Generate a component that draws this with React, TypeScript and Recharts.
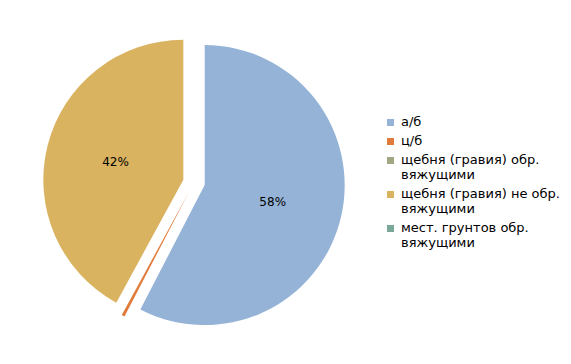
import React from "react";
import { PieChart, Pie, Cell, Legend, Sector } from "recharts";

const categories = [
  "а/б",
  "ц/б",
  "щебня (гравия) обр. вяжущими",
  "щебня (гравия) не обр. вяжущими",
  "мест. грунтов обр. вяжущими",
];
const shares = [57.6, 0.35, 0, 42.05, 0];
const colors = ["#95B3D7", "#E07B3C", "#A0A883", "#D9B35F", "#79A898"];

const data = categories.map((name, i) => ({ name, value: shares[i] }));

const RAD = Math.PI / 180;
const EXPLODE = 11;
const FONT = "'DejaVu Sans', sans-serif";

const ExplodedSector = (props: any) => {
  const { cx, cy, midAngle } = props;
  const dx = EXPLODE * Math.cos(-midAngle * RAD);
  const dy = EXPLODE * Math.sin(-midAngle * RAD);
  return <Sector {...props} cx={cx + dx} cy={cy + dy} />;
};

const renderLabel = (props: any) => {
  const { cx, cy, midAngle, outerRadius, percent } = props;
  if (percent < 0.01) return null;
  const r = EXPLODE + outerRadius * 0.5;
  const x = cx + r * Math.cos(-midAngle * RAD);
  const y = cy + r * Math.sin(-midAngle * RAD);
  return (
    <text
      x={x}
      y={y}
      textAnchor="middle"
      dominantBaseline="central"
      fill="#000"
      fontSize={12}
      fontFamily={FONT}
    >
      {`${Math.round(percent * 100)}%`}
    </text>
  );
};

const LegendContent = (props: any) => {
  const payload = [...(props.payload || [])].sort(
    (a: any, b: any) => categories.indexOf(a.value) - categories.indexOf(b.value)
  );
  return (
    <div style={{ fontFamily: FONT, fontSize: 13, color: "#000" }}>
      {payload.map((p: any, i: number) => (
        <div
          key={i}
          style={{
            display: "flex",
            alignItems: "flex-start",
            lineHeight: "15px",
            marginBottom: 4,
          }}
        >
          <span
            style={{
              display: "inline-block",
              width: 7,
              height: 7,
              background: p.color,
              marginTop: 5,
              marginRight: 7,
              flex: "0 0 auto",
            }}
          />
          <span>{p.value}</span>
        </div>
      ))}
    </div>
  );
};

export default function App() {
  return (
    <div style={{ position: "fixed", left: 0, top: 0, background: "#fff" }}>
      <PieChart
        width={571}
        height={364}
        margin={{ top: 0, right: 0, bottom: 0, left: 0 }}
      >
        <Pie
          data={data}
          dataKey="value"
          nameKey="name"
          cx={194}
          cy={182.5}
          outerRadius={140}
          startAngle={90}
          endAngle={-270}
          stroke="none"
          isAnimationActive={false}
          labelLine={false}
          label={renderLabel}
          shape={ExplodedSector}
        >
          {data.map((d, i) => (
            <Cell key={d.name} fill={colors[i]} />
          ))}
        </Pie>
        <Legend
          layout="vertical"
          align="right"
          verticalAlign="top"
          content={<LegendContent />}
          wrapperStyle={{ left: 387, top: 114, width: 180 }}
        />
      </PieChart>
    </div>
  );
}
